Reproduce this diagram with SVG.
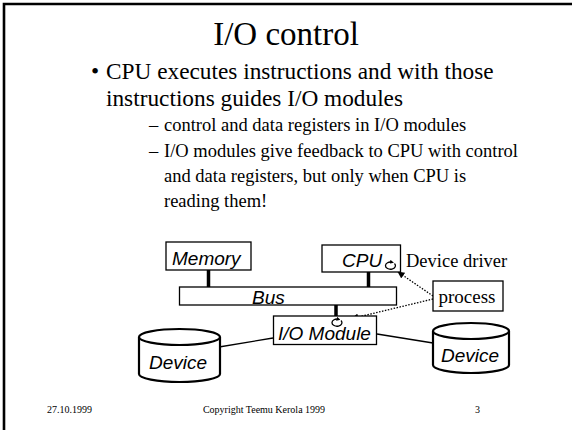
<svg xmlns="http://www.w3.org/2000/svg" width="572" height="430" viewBox="0 0 572 430">
<style>
.serif{font-family:"Liberation Serif","Times New Roman",serif;fill:#000}
.sans{font-family:"Liberation Sans",Arial,sans-serif;font-style:italic;font-size:19px;fill:#000}
.box{fill:#fff;stroke:#000;stroke-width:1.3}
.cyl{fill:#fff;stroke:#000;stroke-width:2.2}
.link{stroke:#000;stroke-width:1.3;fill:none}
.stem{stroke:#000;stroke-width:3.5}
.dot{stroke:#000;stroke-width:1.3;stroke-dasharray:1.5 1.5;fill:none}
.loop{fill:none;stroke:#000;stroke-width:1.3}
</style>
<defs>
<marker id="ah" viewBox="0 0 10 10" refX="9" refY="5" markerWidth="7" markerHeight="7" orient="auto" markerUnits="userSpaceOnUse">
<path d="M0,0 L10,5 L0,10 z" fill="#000"/>
</marker>
<marker id="sm" viewBox="0 0 10 10" refX="5" refY="5" markerWidth="4" markerHeight="4" orient="auto" markerUnits="userSpaceOnUse">
<path d="M0,0 L10,5 L0,10 z" fill="#000"/>
</marker>
</defs>
<rect width="572" height="430" fill="#fff"/>
<path d="M4,430 L4,4 L572,4" fill="none" stroke="#000" stroke-width="2.6"/>

<g id="text">
<text class="serif" x="286" y="45" font-size="33" text-anchor="middle">I/O control</text>
<text class="serif" x="91" y="79" font-size="23.3">•</text>
<text class="serif" x="106" y="79" font-size="23.3">CPU executes instructions and with those</text>
<text class="serif" x="106" y="106" font-size="23.3">instructions guides I/O modules</text>
<text class="serif" x="149" y="131" font-size="18.5">–</text>
<text class="serif" x="164" y="131" font-size="18.5">control and data registers in I/O modules</text>
<text class="serif" x="149" y="157" font-size="18.5">–</text>
<text class="serif" x="164" y="157" font-size="18.5">I/O modules give feedback to CPU with control</text>
<text class="serif" x="164" y="182" font-size="18.5">and data registers, but only when CPU is</text>
<text class="serif" x="164" y="207" font-size="18.5">reading them!</text>
<text class="serif" x="47" y="413" font-size="10">27.10.1999</text>
<text class="serif" x="264" y="413" font-size="10" text-anchor="middle">Copyright Teemu Kerola 1999</text>
<text class="serif" x="475" y="413" font-size="10">3</text>
</g>

<g id="connectors">
<line class="stem" x1="208.5" y1="270" x2="208.5" y2="287"/>
<line class="stem" x1="368.5" y1="272" x2="368.5" y2="287"/>
<line class="stem" x1="336" y1="305" x2="336" y2="316"/>
<line class="link" x1="219" y1="347" x2="273" y2="338"/>
<line class="link" x1="377" y1="334" x2="433" y2="343"/>
<line class="dot" x1="433" y1="296" x2="398" y2="272" marker-end="url(#ah)"/>
<line class="dot" x1="433" y1="299" x2="352" y2="318.5" marker-end="url(#ah)"/>
</g>

<g id="memory">
<rect class="box" x="166" y="242" width="85" height="28"/>
<text class="sans" x="172" y="265">Memory</text>
</g>

<g id="cpu">
<rect class="box" x="322" y="245" width="78.5" height="27"/>
<text class="sans" x="342" y="266.5">CPU</text>
<path class="loop" d="M394.5,263.5 A5,3.6 0 1 1 392,262.2" marker-end="url(#sm)"/>
</g>

<g id="bus">
<rect class="box" x="179.5" y="287" width="217" height="18"/>
<text class="sans" x="252" y="304">Bus</text>
</g>

<g id="io-module">
<rect class="box" x="273.5" y="316" width="103" height="28.5"/>
<text class="sans" x="278" y="339.5">I/O Module</text>
<path class="loop" d="M341,320.5 A5,3.6 0 1 1 338.5,319.2" marker-end="url(#sm)"/>
</g>

<g id="device-driver">
<text class="serif" x="406" y="267" font-size="18.5">Device driver</text>
</g>

<g id="process">
<rect class="box" x="433" y="281" width="70" height="30"/>
<text class="serif" x="438.5" y="303" font-size="19">process</text>
</g>

<g id="device-left">
<path class="cyl" d="M139,337 L139,374 A40.5,8 0 0 0 220,374 L220,337"/>
<ellipse class="cyl" cx="179.5" cy="337" rx="40.5" ry="8"/>
<text class="sans" x="149" y="369">Device</text>
</g>

<g id="device-right">
<path class="cyl" d="M433,331 L433,365 A38,8 0 0 0 509,365 L509,331"/>
<ellipse class="cyl" cx="471" cy="331" rx="38" ry="8"/>
<text class="sans" x="441" y="362">Device</text>
</g>
</svg>
